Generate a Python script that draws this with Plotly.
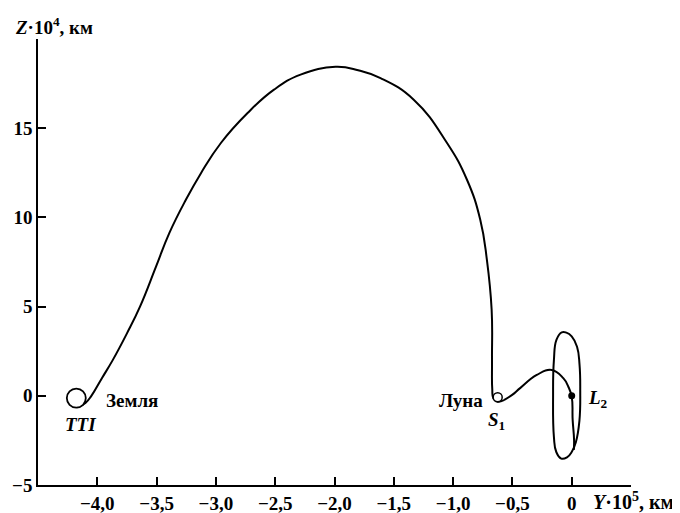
import plotly.graph_objects as go

# Transfer trajectory Earth -> Moon (Y in 1e5 km, Z in 1e4 km)
traj1_y = [-4.169, -4.100, -4.050, -3.960, -3.870, -3.750, -3.640, -3.505, -3.393, -3.253,
           -3.126, -2.958, -2.733, -2.510, -2.286, -1.991, -1.800, -1.612, -1.332, -1.051,
           -0.883, -0.771, -0.715, -0.675, -0.672, -0.670, -0.660, -0.625, -0.572]
traj1_z = [-0.65, -0.40, 0.00, 1.00, 2.00, 3.50, 5.00, 7.24, 9.12, 10.99,
           12.48, 14.17, 15.85, 17.16, 18.00, 18.44, 18.25, 17.81, 16.60, 14.17,
           12.11, 9.87, 7.62, 4.82, 2.00, 0.40, -0.15, -0.33, -0.24]

# Moon flyby -> L2
traj2_y = [-0.572, -0.502, -0.435, -0.294, -0.168, -0.071, -0.029, 0.000, 0.008, 0.020, 0.018]
traj2_z = [-0.24, 0.05, 0.43, 1.17, 1.45, 0.99, 0.52, -0.05, -1.35, -2.47, -3.03]

# Halo orbit around L2
halo_y = [-0.084, -0.128, -0.150, -0.157, -0.150, -0.130, -0.088, -0.040, 0.000, 0.035,
          0.065, 0.072, 0.066, 0.045, 0.000, -0.045, -0.084]
halo_z = [3.56, 3.15, 2.0, 0.0, -2.3, -3.15, -3.52, -3.45, -3.15, -2.6,
          -1.4, 0.3, 1.75, 2.75, 3.33, 3.54, 3.56]

earth = (-4.177, -0.13)
moon = (-0.624, -0.08)
l2 = (0.0, 0.0)

x_ticks = [-4.5, -4.0, -3.5, -3.0, -2.5, -2.0, -1.5, -1.0, -0.5, 0.0, 0.5]
x_labels = ["", "−4,0", "−3,5", "−3,0", "−2,5", "−2,0", "−1,5", "−1,0", "−0,5", "0", ""]
y_ticks = [-5, 0, 5, 10, 15, 20]
y_labels = ["−5", "0", "5", "10", "15", ""]

FONT = "Liberation Serif, Times New Roman, serif"
line = dict(color="black", width=2, shape="spline", smoothing=1.3)

fig = go.Figure()
fig.add_trace(go.Scatter(x=traj1_y, y=traj1_z, mode="lines", line=line, hoverinfo="skip"))
fig.add_trace(go.Scatter(x=traj2_y, y=traj2_z, mode="lines", line=line, hoverinfo="skip"))
fig.add_trace(go.Scatter(x=halo_y, y=halo_z, mode="lines", line=line, hoverinfo="skip"))
fig.add_trace(go.Scatter(x=[earth[0]], y=[earth[1]], mode="markers",
                         marker=dict(symbol="circle", size=19, color="white",
                                     line=dict(color="black", width=1.8))))
fig.add_trace(go.Scatter(x=[moon[0]], y=[moon[1]], mode="markers",
                         marker=dict(symbol="circle", size=9, color="white",
                                     line=dict(color="black", width=1.5))))
fig.add_trace(go.Scatter(x=[l2[0]], y=[l2[1]], mode="markers",
                         marker=dict(symbol="circle", size=7, color="black")))

tf = dict(family=FONT, size=19, color="black")
ann = [
    dict(x=-3.94, y=-0.25, text="<b>Земля</b>", xanchor="left", yanchor="middle"),
    dict(x=-4.14, y=-1.6, text="<b><i>TTI</i></b>", xanchor="center", yanchor="middle"),
    dict(x=-0.729, y=-0.25, text="<b>Луна</b>", xanchor="right", yanchor="middle"),
    dict(x=-0.635, y=-1.4, text="<b><i>S</i><sub>1</sub></b>", xanchor="center", yanchor="middle"),
    dict(x=0.12, y=-0.2, text="<b><i>L</i><sub>2</sub></b>", xanchor="left", yanchor="middle"),
]
annotations = [dict(a, xref="x", yref="y", showarrow=False, font=tf) for a in ann]
annotations.append(dict(x=-0.042, y=1.03, xref="paper", yref="paper", xanchor="left",
                        yanchor="middle", showarrow=False, font=tf,
                        text="<b><i>Z</i>·10<sup>4</sup>, км</b>"))
annotations.append(dict(x=0.932, y=-0.036, xref="paper", yref="paper", xanchor="left",
                        yanchor="middle", showarrow=False, font=dict(tf, size=20),
                        text="<b><i>Y</i>·10<sup>5</sup>, км</b>"))

axis_common = dict(showline=True, linecolor="black", linewidth=1.5, ticks="inside",
                   ticklen=8, tickwidth=1.5, tickcolor="black", showgrid=False,
                   zeroline=False, mirror=False, automargin=False,
                   tickfont=dict(family=FONT, size=19, color="black"))

# page body adds an 8px offset, so margins are shifted to compensate
fig.update_layout(
    width=680, height=513,
    margin=dict(l=30, r=57, t=31, b=36),
    paper_bgcolor="white", plot_bgcolor="white",
    showlegend=False,
    font=dict(family=FONT, color="black"),
    annotations=annotations,
    xaxis=dict(axis_common, range=[-4.5, 0.5], tickvals=x_ticks,
               ticktext=[f"<b>{t}</b>" if t else "" for t in x_labels]),
    yaxis=dict(axis_common, range=[-5, 20], tickvals=y_ticks,
               ticktext=[f"<b>{t}</b>" if t else "" for t in y_labels]),
)

fig.write_html("out.html")
